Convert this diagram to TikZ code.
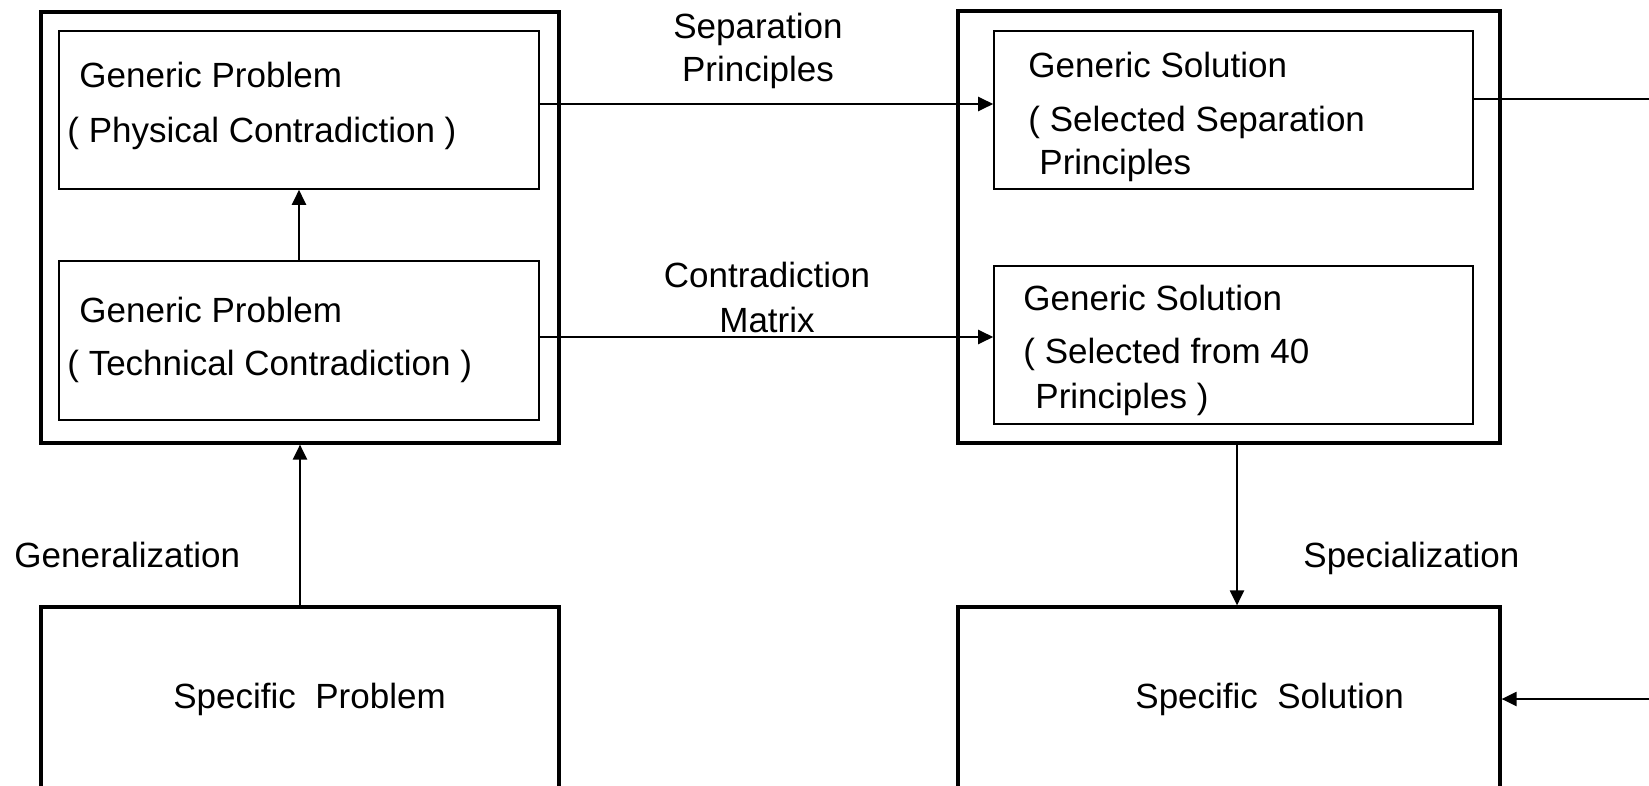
\documentclass[tikz,border=0pt]{standalone}
\usepackage{fontspec}
\setmainfont{Liberation Sans}
\usetikzlibrary{arrows.meta,fit}
\begin{document}
\begin{tikzpicture}[x=0.5pt,y=-0.5pt,
  font=\fontsize{17.5pt}{21pt}\selectfont,
  outbox/.style={draw,line width=1.6pt,inner sep=0pt},
  inbox/.style={draw,line width=0.8pt,inner sep=0pt},
  lbl/.style={inner sep=0pt,anchor=base west},
  clbl/.style={inner sep=0pt,anchor=base},
  arr/.style={line width=1.1pt,-{Triangle[length=7.5pt,width=7pt]}},
  plain/.style={line width=1.1pt}]
\useasboundingbox (0,0) rectangle (1649,786);
\clip (0,0) rectangle (1649,786);

% problem side
\node[outbox,fit={(41,12) (559,443)}] (outL) {};
\node[inbox,fit={(59,31) (539,189)}] (ptl) {};
\node[inbox,fit={(59,261) (539,420)}] (ptb) {};
\node[outbox,fit={(41,607) (559,820)}] (spP) {};

% solution side
\node[outbox,fit={(958,11) (1500,443)}] (outR) {};
\node[inbox,fit={(994,31) (1473,189)}] (gs1) {};
\node[inbox,fit={(994,266) (1473,424)}] (gs2) {};
\node[outbox,fit={(958,607) (1500,820)}] (spS) {};

% texts in the boxes
\node[lbl] (t1) at (79,88) {Generic Problem};
\node[lbl] (t2) at (67,143) {( Physical Contradiction )};
\node[lbl] (t3) at (79,322) {Generic Problem};
\node[lbl] (t4) at (67,375) {( Technical Contradiction )};
\node[lbl] (t5) at (1028,78) {Generic Solution};
\node[lbl] (t6) at (1028,132) {( Selected Separation};
\node[lbl] (t7) at (1039,175) {Principles};
\node[lbl] (t8) at (1023,310) {Generic Solution};
\node[lbl] (t9) at (1023,363) {( Selected from 40};
\node[lbl] (t10) at (1035,408) {Principles )};
\node[lbl] (spPt) at (173,708) {Specific\ \ Problem};
\node[lbl] (spSt) at (1135,708) {Specific\ \ Solution};

% connector labels
\node[clbl] (sepA) at (758,39) {Separation};
\node[clbl] (sepB) at (758,82) {Principles};
\node[clbl] (conA) at (767,287) {Contradiction};
\node[clbl] (conB) at (767,332) {Matrix};
\node[lbl] (genl) at (14,567) {Generalization};
\node[lbl] (spel) at (1303,567) {Specialization};

% free ends at the right margin
\coordinate (exitA) at (1649,99);
\coordinate (entB) at (1649,699);

% connectors
\draw[arr] (ptb.north) -- (ptl.south);
\draw[arr] (spP.north) -- (outL.south);
\draw[arr] ([xshift=4pt]outR.south) -- ([xshift=4pt]spS.north);
\draw[arr] (ptl.east |- 0,104) -- (gs1.west |- 0,104);
\draw[arr] (ptb.east |- 0,337) -- (gs2.west |- 0,337);
\draw[plain] (gs1.east |- exitA) -- (exitA);
\draw[arr] (entB) -- (spS.east |- entB);
\end{tikzpicture}
\end{document}
